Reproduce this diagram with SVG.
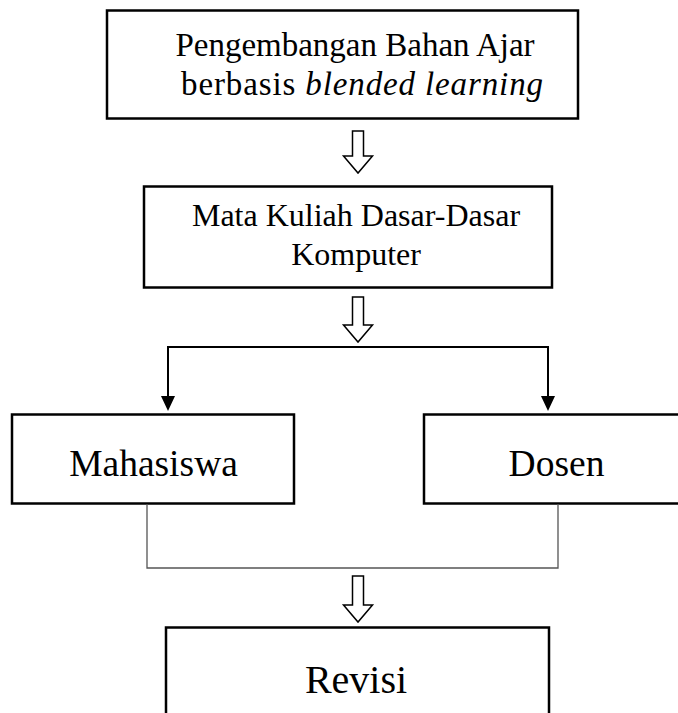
<svg xmlns="http://www.w3.org/2000/svg" width="678" height="713" viewBox="0 0 678 713">
<style>
.box{fill:#fff;stroke:#000;stroke-width:2.5}
.t{font-family:"Liberation Serif","Times New Roman",serif;fill:#000;text-anchor:middle}
.hollow{fill:#fff;stroke:#000;stroke-width:1.5;stroke-linejoin:miter}
.conn{fill:none;stroke:#000;stroke-width:2}
.thin{fill:none;stroke:#555;stroke-width:1.3}
</style>
<rect width="678" height="713" fill="#fff"/>
<g id="node-pengembangan">
<rect class="box" x="107" y="10.5" width="471" height="108"/>
<text class="t" x="355" y="56" font-size="33">Pengembangan Bahan Ajar</text>
<text class="t" x="362" y="95" font-size="33" textLength="362" lengthAdjust="spacing">berbasis <tspan font-style="italic">blended learning</tspan></text>
</g>
<g id="node-matakuliah">
<rect class="box" x="144" y="186.5" width="408" height="101"/>
<text class="t" x="356" y="226" font-size="32">Mata Kuliah Dasar-Dasar</text>
<text class="t" x="356" y="265" font-size="32">Komputer</text>
</g>
<g id="node-mahasiswa">
<rect class="box" x="12" y="414.5" width="282" height="89"/>
<text class="t" x="153.5" y="476" font-size="37.5">Mahasiswa</text>
</g>
<g id="node-dosen">
<rect class="box" x="424" y="414.5" width="281" height="89"/>
<text class="t" x="556.5" y="476" font-size="37.5">Dosen</text>
</g>
<g id="node-revisi">
<rect class="box" x="166" y="627.5" width="383" height="120"/>
<text class="t" x="356" y="693" font-size="40">Revisi</text>
</g>
<g id="connectors">
<path class="hollow" d="M352.5,131 L363.5,131 L363.5,156 L372.5,156 L358,173 L343.5,156 L352.5,156 Z"/>
<path class="hollow" d="M352.5,297 L363.5,297 L363.5,325 L372.5,325 L358,342 L343.5,325 L352.5,325 Z"/>
<path class="hollow" d="M352.5,576 L363.5,576 L363.5,605 L372.5,605 L358,622 L343.5,605 L352.5,605 Z"/>
<path class="conn" d="M168,347 L548,347"/>
<path class="conn" d="M168,346 L168,396"/>
<path d="M161,396 L175,396 L168,411 Z" fill="#000"/>
<path class="conn" d="M548,346 L548,396"/>
<path d="M541,396 L555,396 L548,411 Z" fill="#000"/>
<path class="thin" d="M147,504 L147,568 L558,568 L558,504"/>
</g>
</svg>
